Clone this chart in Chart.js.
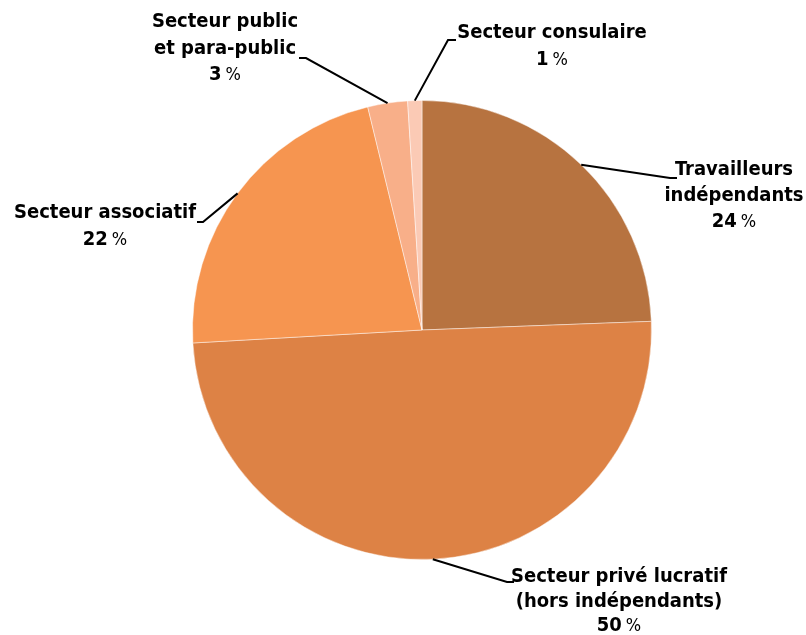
<!DOCTYPE html>
<html>
<head>
<meta charset="utf-8">
<script src="https://cdn.jsdelivr.net/npm/chart.js@4"></script>
<style>
  html, body { margin: 0; padding: 0; background: #fff; }
  #wrap { width: 806px; height: 635px; }
</style>
</head>
<body>
<div id="wrap"><canvas id="pieChart"></canvas></div>
<script>
// Data
const categories = [
  ["Travailleurs", "indépendants"],
  ["Secteur privé lucratif", "(hors indépendants)"],
  ["Secteur associatif"],
  ["Secteur public", "et para-public"],
  ["Secteur consulaire"]
];
const shares = [24.4, 49.7, 22.1, 2.8, 1.0];
const sliceColors = ['#B77340', '#DD8245', '#F69550', '#F8AF89', '#FBCAB5'];

// Where each label sits: elbow of the leader line, end of the line, text centre and first line
const labelLayout = [
  { elbow: [670, 178], end: [677, 178], tx: 734, ty: 170, gap: 26 },
  { elbow: [507, 582], end: [514, 582], tx: 619, ty: 577, gap: 24.5 },
  { elbow: [203, 222], end: [197, 222], tx: 105, ty: 213, gap: 27 },
  { elbow: [306, 58], end: [299, 58], tx: 225, ty: 22, gap: 26.5 },
  { elbow: [448, 40], end: [456, 40], tx: 552, ty: 33, gap: 27 }
];

const FONT = '"DejaVu Sans Condensed", "Liberation Sans Narrow", Arial, sans-serif';

// Draw leader lines + labels
const outsideLabels = {
  id: 'outsideLabels',
  afterDatasetsDraw(chart) {
    const ctx = chart.ctx;
    const arcs = chart.getDatasetMeta(0).data;
    ctx.save();
    arcs.forEach((arc, i) => {
      const p = arc.getProps(['x', 'y', 'startAngle', 'endAngle', 'outerRadius'], true);
      const mid = (p.startAngle + p.endAngle) / 2;
      const sx = p.x + Math.cos(mid) * p.outerRadius;
      const sy = p.y + Math.sin(mid) * p.outerRadius;
      const L = labelLayout[i];

      ctx.strokeStyle = '#000';
      ctx.lineWidth = 2;
      ctx.beginPath();
      ctx.moveTo(sx, sy);
      ctx.lineTo(L.elbow[0], L.elbow[1]);
      ctx.lineTo(L.end[0], L.end[1]);
      ctx.stroke();

      ctx.fillStyle = '#000';
      ctx.textBaseline = 'middle';
      ctx.textAlign = 'center';
      ctx.font = 'bold 20px ' + FONT;
      let y = L.ty;
      categories[i].forEach(line => {
        ctx.fillText(line, L.tx, y);
        y += L.gap;
      });

      // percentage: bold number, lighter % sign
      const num = String(Math.round(shares[i]));
      ctx.font = 'bold 20px ' + FONT;
      const wNum = ctx.measureText(num).width;
      ctx.font = '18px ' + FONT;
      const wPct = ctx.measureText('%').width;
      const space = 4;
      const x0 = L.tx - (wNum + space + wPct) / 2;
      ctx.textAlign = 'left';
      ctx.font = 'bold 20px ' + FONT;
      ctx.fillText(num, x0, y);
      ctx.font = '18px ' + FONT;
      ctx.fillText('%', x0 + wNum + space, y);
    });
    ctx.restore();
  }
};

let ctx = document.getElementById('pieChart').getContext('2d');
let pieChart = new Chart(ctx, {
  type: 'pie',
  data: {
    labels: categories.map(c => c.join(' ')),
    datasets: [{
      data: shares,
      backgroundColor: sliceColors,
      borderColor: 'rgba(255,255,255,0.45)',
      borderWidth: 1
    }]
  },
  options: {
    responsive: true,
    maintainAspectRatio: false,
    animation: false,
    layout: { padding: { left: 192, right: 154, top: 100, bottom: 75 } },
    plugins: {
      legend: { display: false },
      tooltip: { enabled: false }
    }
  },
  plugins: [outsideLabels]
});
</script>
</body>
</html>
